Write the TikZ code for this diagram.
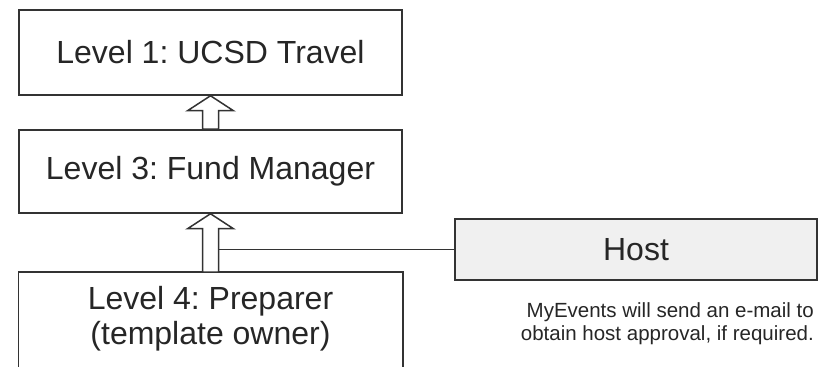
\documentclass[tikz,border=0pt]{standalone}
\usepackage{fontspec}
\setmainfont{Liberation Sans}
\usepackage{tikz}
\usetikzlibrary{calc}
\frenchspacing

\newcommand{\hollowarrow}[2]{%
  \draw[hollow] (#1) -- ++(23,-15) -- ++(-15,0) -- ($(#2)+(8,0)$)
    -- ($(#2)+(-8,0)$) -- ($(#1)+(-8,-15)$) -- ++(-15,0) -- cycle;}

\begin{document}
\begin{tikzpicture}[x=1pt, y=1pt,
    levelbox/.style={draw=black!80, line width=1.5pt, minimum width=383, text=black!85,
      font=\fontsize{32}{35}\selectfont, align=center, inner sep=0pt},
    hostbox/.style={levelbox, fill=black!6, minimum width=362, minimum height=61},
    hollow/.style={draw=black!80, line width=1.5pt, fill=white, line join=miter},
    boxline/.style={draw=black!80, line width=1.5pt}]
      \useasboundingbox (0,0) rectangle (828,367);
      \clip (0,0) rectangle (828,367);
      \node[levelbox, minimum height=85] (lvone) at (210.5,314.5) {Level 1: UCSD Travel};
      \node[levelbox, minimum height=83] (lvthree) at (210.5,195.5) {Level 3: Fund Manager};
      \node[levelbox, draw=none, minimum height=91] (lvfour) at (210.5,48.5)
        {Level 4: Preparer\\(template owner)};
      \draw[boxline] ([yshift=-20]lvfour.south west) |- (lvfour.north east)
        -- ([yshift=-20]lvfour.south east);
      \hollowarrow{lvone.south}{lvthree.north}
      \hollowarrow{lvthree.south}{lvfour.north}
      \node[hostbox] (host) at (636,117.5) {Host};
      \coordinate (shaft) at ($(lvfour.north)+(8,0)$);
      \draw[boxline] (host.west) -- (host.west -| shaft);
      \node[anchor=east, align=right, text=black!85, font=\fontsize{20.5}{23.5}\selectfont,
        inner sep=0pt] (note) at (814,43.5)
        {MyEvents will send an e-mail to\\obtain host approval, if required.};
    \end{tikzpicture}
\end{document}
